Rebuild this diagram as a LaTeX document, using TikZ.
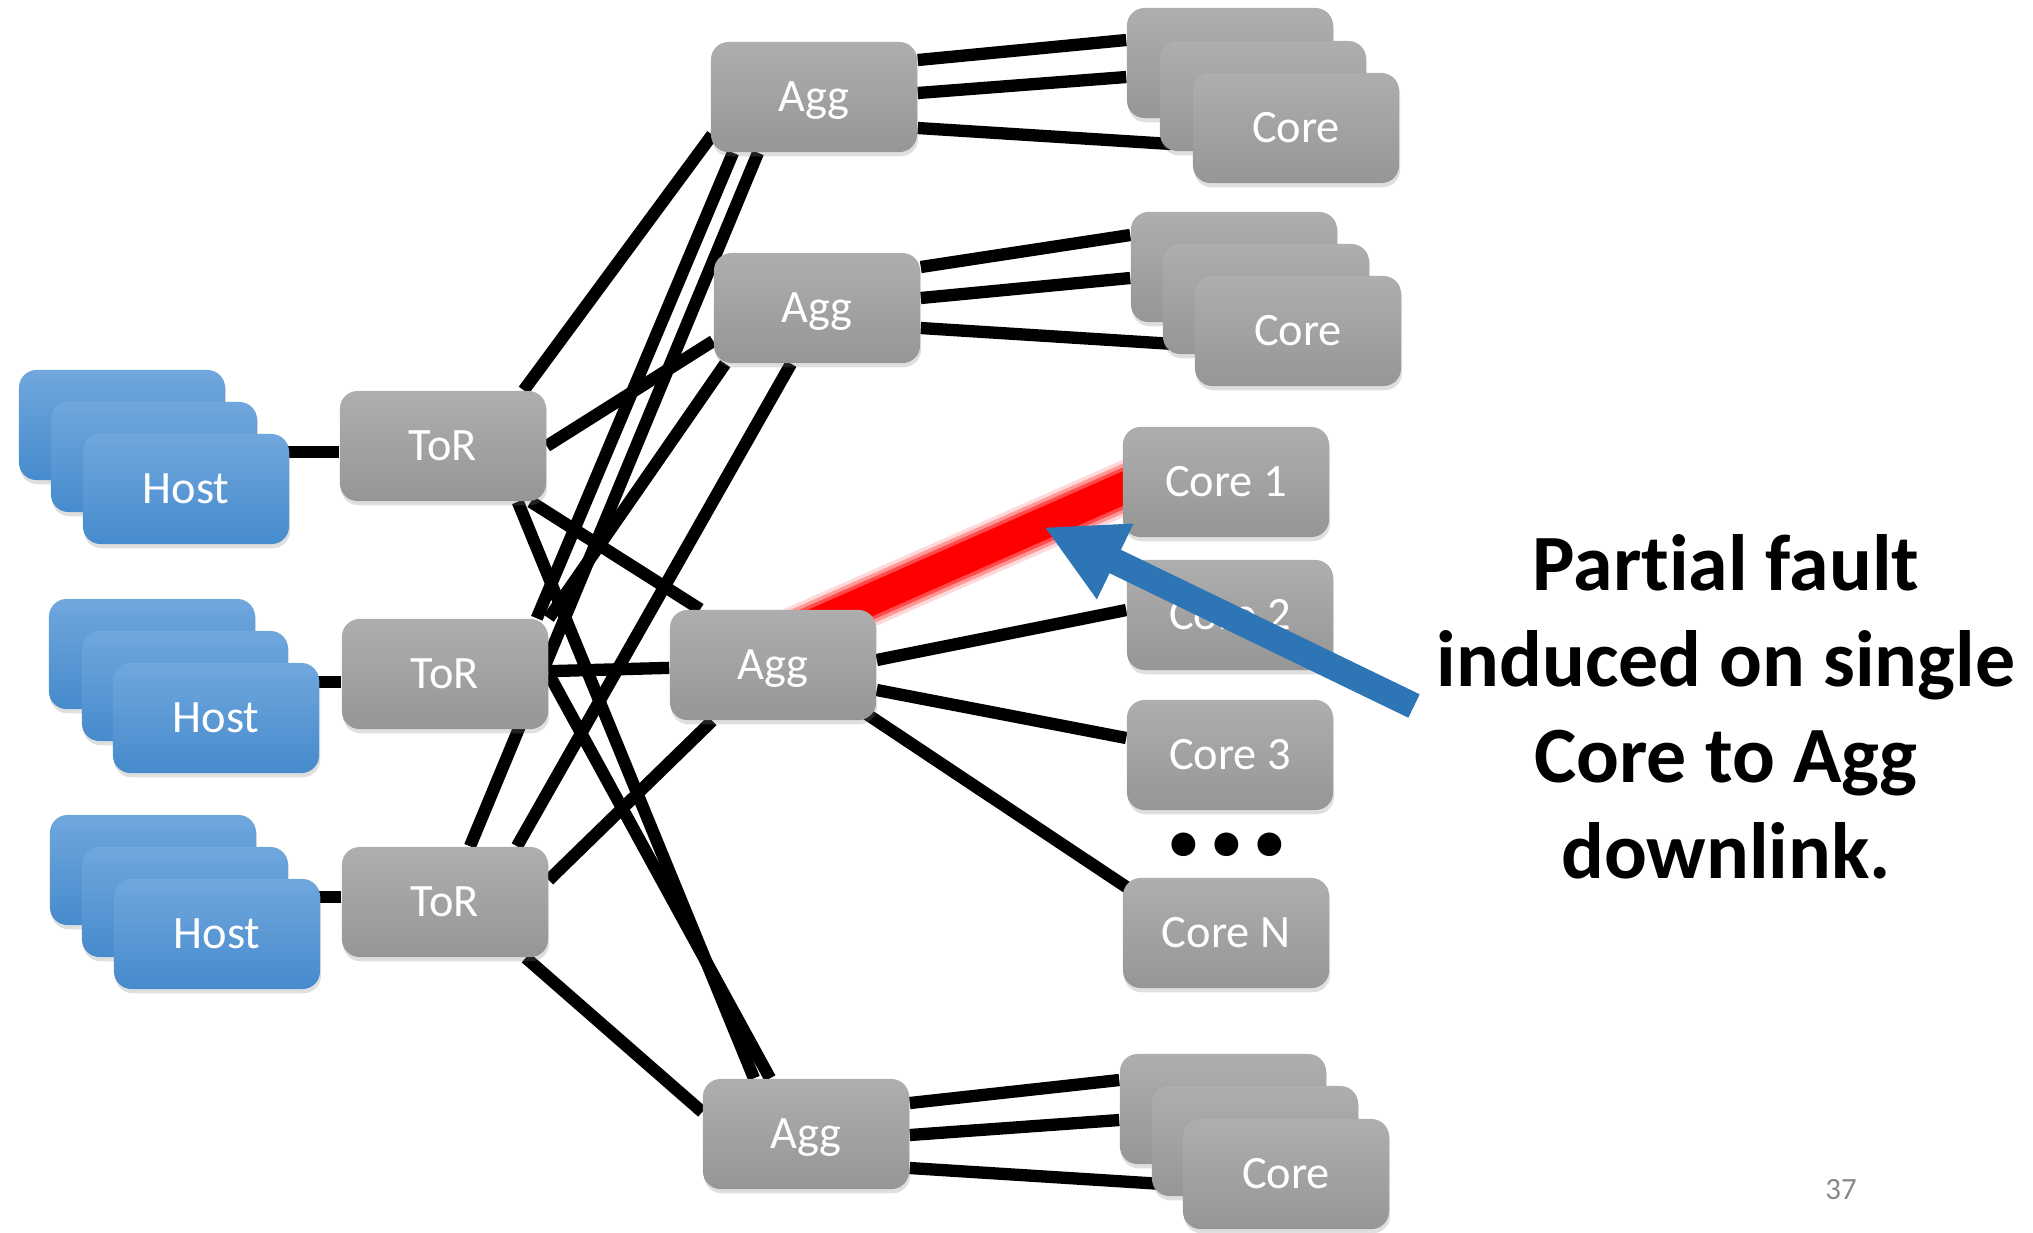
\documentclass[tikz,border=0pt]{standalone}
\usepackage{fontspec}
\setmainfont{Carlito}[Ligatures=NoCommon]
\usetikzlibrary{calc,shadows,backgrounds,arrows.meta}
\definecolor{boxtop}{RGB}{174,174,174}
\definecolor{boxbot}{RGB}{150,150,150}
\definecolor{hosttop}{RGB}{112,167,221}
\definecolor{hostbot}{RGB}{70,139,205}
\definecolor{pointer}{RGB}{46,117,182}
\definecolor{pagegray}{RGB}{137,137,137}
\tikzset{
  boxnode/.style = {shape=rectangle, rounded corners=5pt, inner sep=0pt,
                    minimum width=2.06cm, minimum height=1.10cm,
                    text height=8.5pt, text depth=0pt,
                    top color=boxtop, bottom color=boxbot, text=white,
                    font=\fontsize{13.2}{15}\selectfont,
                    drop shadow={opacity=0.25, shadow xshift=0.3pt, shadow yshift=-1.2pt}},
  host/.style    = {boxnode, top color=hosttop, bottom color=hostbot},
  link/.style    = {line width=3.5pt, black},
  fault/.style   = {red, line width=#1}
}

\begin{document}
\begin{tikzpicture}[x=0.01cm, y=-0.01cm]
\useasboundingbox (0,0) rectangle (2033,1232);
% hosts
\node [host] (h1a) at (122,425) {};
\node [host] (h1b) at (154,457) {};
\node [host] (h1c) at (186,489) {Host};
\node [host] (h2a) at (152,654) {};
\node [host] (h2b) at (185,686) {};
\node [host] (h2c) at (216,718) {Host};
\node [host] (h3a) at (153,870) {};
\node [host] (h3b) at (185,902) {};
\node [host] (h3c) at (217,934) {Host};
% ToR and Agg
\node [boxnode] (t1) at (443,446) {ToR};
\node [boxnode] (t2) at (445,674) {ToR};
\node [boxnode] (t3) at (445,902) {ToR};
\node [boxnode] (a1) at (814,97) {Agg};
\node [boxnode] (a2) at (817,308) {Agg};
\node [boxnode] (a3) at (773,665) {Agg};
\node [boxnode] (a4) at (806,1134) {Agg};
% cores
\node [boxnode] (ca1) at (1230,63) {};
\node [boxnode] (ca2) at (1263,96) {};
\node [boxnode] (ca3) at (1296,128) {Core};
\node [boxnode] (cb1) at (1234,267) {};
\node [boxnode] (cb2) at (1266,299) {};
\node [boxnode] (cb3) at (1298,331) {Core};
\node [boxnode] (c1) at (1226,482) {Core 1};
\node [boxnode] (c2) at (1230,615) {Core 2};
\node [boxnode] (c3) at (1230,755) {Core 3};
\node [inner sep=0pt, font=\bfseries\fontsize{45.5}{50}\selectfont] (dots) at (1227,845) {...};
\node [boxnode] (cn) at (1226,933) {Core N};
\node [boxnode] (cc1) at (1223,1109) {};
\node [boxnode] (cc2) at (1255,1141) {};
\node [boxnode] (cc3) at (1286,1174) {Core};

\begin{scope}[on background layer]
\draw [link] ($(t1.west)+(0,6)$) -- ($(h1c.east)+(-10,-37)$);
\draw [link] ($(t2.west)+(0,8)$) -- ($(h2c.east)+(-10,-36)$);
\draw [link] ($(t3.west)+(0,-5)$) -- ($(h3c.east)+(-10,-37)$);
\draw [link] ($(t1.north east)+(-23,0)$) -- ($(a1.south west)+(2,-18)$);
\draw [link] (t1.east) -- ($(a2.west)+(0,33)$);
\draw [link] ($(t1.south east)+(-16,0)$) -- ($(a3.north west)+(31,0)$);
\draw [link] ($(t1.south east)+(-29,0)$) -- ($(a4.north)+(-52,0)$);
\draw [link] ($(t2.north east)+(-12,0)$) -- ($(a1.south)+(-81,0)$);
\draw [link] (t2.north east) -- ($(a2.south west)+(12,0)$);
\draw [link] (t2) -- (a3);
\draw [link] (t2.east) -- ($(a4.north)+(-36,0)$);
\draw [link] ($(t3.north)+(25,0)$) -- ($(a1.south)+(-56,0)$);
\draw [link] ($(t3.north)+(72,0)$) -- ($(a2.south)+(-26,0)$);
\draw [link] ($(t3.east)+(0,-22)$) -- ($(a3.south west)+(43,0)$);
\draw [link] ($(t3.south east)+(-23,0)$) -- ($(a4.west)+(0,-22)$);
\draw [link] ($(a1.east)+(0,-37)$) -- ($(ca1.west)+(0,-23)$);
\draw [link] ($(a1.east)+(0,-4)$) -- ($(ca1.west)+(0,14)$);
\draw [link] ($(a1.east)+(0,31)$) -- ($(ca2.west)+(12,48)$);
\draw [link] ($(a2.east)+(0,-41)$) -- ($(cb1.west)+(0,-32)$);
\draw [link] ($(a2.east)+(0,-10)$) -- ($(cb1.west)+(0,11)$);
\draw [link] ($(a2.east)+(0,20)$) -- ($(cb2.west)+(12,45)$);
\draw [link] ($(a4.east)+(0,-31)$) -- ($(cc1.west)+(0,-29)$);
\draw [link] ($(a4.east)+(0,1)$) -- ($(cc1.west)+(0,11)$);
\draw [link] ($(a4.east)+(0,34)$) -- ($(cc2.west)+(12,43)$);
\draw [link] ($(a3.east)+(0,-5)$) -- ($(c2.west)+(0,-5)$);
\draw [link] ($(a3.east)+(0,25)$) -- ($(c3.west)+(0,-17)$);
\draw [link] ($(a3.south east)+(-15,-10)$) -- ($(cn.north west)+(18,19)$);
\draw [fault=15pt, opacity=0.15] ($(a3.north)+(21,24)$) -- ($(c1.west)+(20,-2)$);
\draw [fault=13pt, opacity=0.3] ($(a3.north)+(21,24)$) -- ($(c1.west)+(20,-2)$);
\draw [fault=11pt, opacity=0.5] ($(a3.north)+(21,24)$) -- ($(c1.west)+(20,-2)$);
\draw [fault=9pt] ($(a3.north)+(21,24)$) -- ($(c1.west)+(20,-2)$);
\end{scope}

\coordinate (tail) at (1414,706);
\coordinate (tip) at (1044,527);
\draw [pointer, line width=7.4pt, -{Triangle[length=22.5pt, width=22.2pt]}] (tail) -- (tip);
\node [font=\bfseries\fontsize{22.7}{27.3}\selectfont, align=center] (note) at (1726,707)
  {Part\kern0pt ial fault\\induced on single\\Core to Agg\\downlink.};
\node [text=pagegray, font=\fontsize{8.8}{10}\selectfont] (page) at (1841,1190) {37};
\end{tikzpicture}
\end{document}
